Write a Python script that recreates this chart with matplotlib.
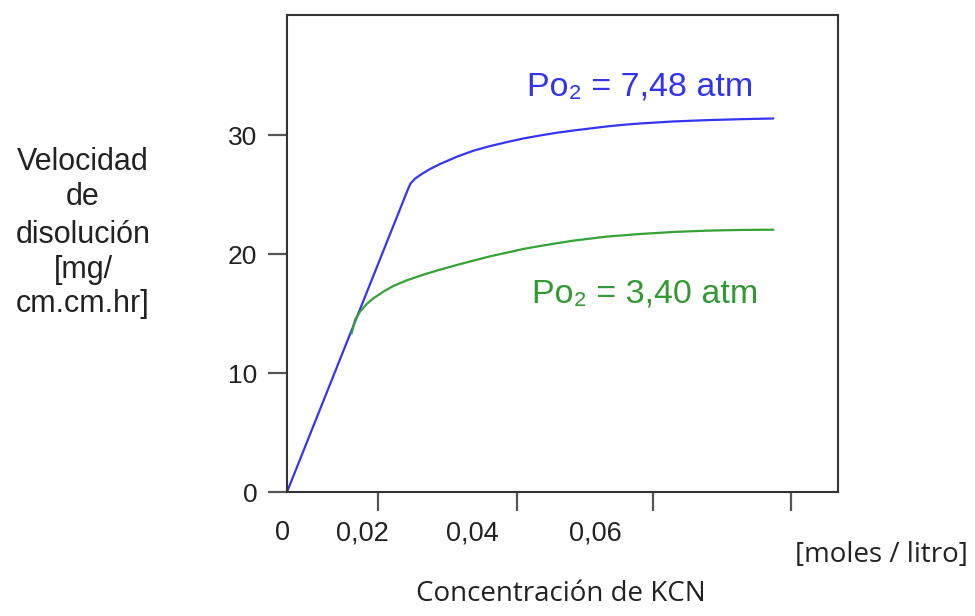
import matplotlib
matplotlib.use("Agg")
import matplotlib.pyplot as plt
from matplotlib.transforms import blended_transform_factory

plt.rcParams['font.family'] = ['Liberation Sans', 'DejaVu Sans']

# ---- data ----
blue_x = [0.0, 0.017616, 0.017955, 0.018584, 0.019552, 0.020762, 0.022214,
          0.024634, 0.027054, 0.029474, 0.031894, 0.034313, 0.036733, 0.039153,
          0.041573, 0.043993, 0.046413, 0.048832, 0.051252, 0.056092, 0.060932,
          0.065771, 0.070611]
blue_y = [0.0, 25.53, 25.95, 26.34, 26.73, 27.15, 27.57,
          28.18, 28.69, 29.08, 29.41, 29.72, 29.97, 30.20,
          30.39, 30.56, 30.73, 30.87, 30.98, 31.15, 31.26,
          31.34, 31.40]

green_x = [0.009389, 0.009873, 0.010599, 0.011567, 0.012535, 0.013987, 0.015439,
           0.017375, 0.019794, 0.022214, 0.024634, 0.027054, 0.029474, 0.031894,
           0.034313, 0.036733, 0.039153, 0.041573, 0.043993, 0.046413, 0.051252,
           0.056092, 0.060932, 0.065771, 0.070611]
green_y = [13.34, 14.46, 15.16, 15.80, 16.28, 16.84, 17.32,
           17.79, 18.27, 18.69, 19.08, 19.45, 19.81, 20.12,
           20.43, 20.68, 20.91, 21.13, 21.30, 21.47, 21.69,
           21.86, 21.97, 22.03, 22.05]

y_ticks = [0, 10, 20, 30]
y_ticklabels = ['0', '10', '20', '30']
x_tick_marks = [0.0132, 0.0334, 0.0532, 0.0732]
x_label_pos = [-0.00065, 0.01096, 0.02686, 0.04472]
x_labels = ['0', '0,02', '0,04', '0,06']

label_blue = 'Po₂ = 7,48 atm'
label_green = 'Po₂ = 3,40 atm'
ylabel_lines = ['Velocidad', 'de', 'disolución', '[mg/', 'cm.cm.hr]']
xlabel = 'Concentración de KCN'
xunits = '[moles / litro]'

W, H = 975, 616
fig = plt.figure(figsize=(W / 100, H / 100), dpi=100)
ax = fig.add_axes([287 / W, 1 - 492 / H, (838 - 287) / W, (492 - 15) / H])

blue = '#3535f5'
green = '#36a136'
ax.plot(blue_x, blue_y, color=blue, lw=1.6, solid_capstyle='round',
        solid_joinstyle='round')
ax.plot(green_x, green_y, color=green, lw=1.6, solid_capstyle='round',
        solid_joinstyle='round')

ax.set_xlim(0, 0.08)
ax.set_ylim(0, 40.1)
for s in ax.spines.values():
    s.set_color('#333333')
    s.set_linewidth(1.5)

ax.set_yticks(y_ticks)
ax.set_yticklabels(y_ticklabels, fontsize=19, color='#222222')
ax.set_xticks(x_tick_marks)
ax.set_xticklabels([''] * len(x_tick_marks))
ax.tick_params(axis='both', direction='out', length=13.5, width=1.6,
               color='#555555', pad=8)

tr = blended_transform_factory(ax.transData, fig.transFigure)
for xp, lab in zip(x_label_pos, x_labels):
    ax.text(xp, 1 - 533 / H, lab, transform=tr, ha='center', va='center',
            fontsize=19.5, color='#222222')

fig.text(527 / W, 1 - 96 / H, label_blue, color='#3333ee', fontsize=24.5,
         ha='left', va='baseline')
fig.text(532 / W, 1 - 303 / H, label_green, color='#339933', fontsize=24.5,
         ha='left', va='baseline')

baselines = [170, 205, 243, 278, 312]
for b, t in zip(baselines, ylabel_lines):
    fig.text(83 / W, 1 - b / H, t, fontsize=22, ha='center', va='baseline',
             color='#222222')

fig.text(561 / W, 1 - 601 / H, xlabel, fontsize=20, ha='center', va='baseline',
         color='#222222', family=['Open Sans', 'DejaVu Sans'])
fig.text(795 / W, 1 - 562 / H, xunits, fontsize=20, ha='left', va='baseline',
         color='#222222', family=['Open Sans', 'DejaVu Sans'])

fig.savefig('out.png', dpi=100)
